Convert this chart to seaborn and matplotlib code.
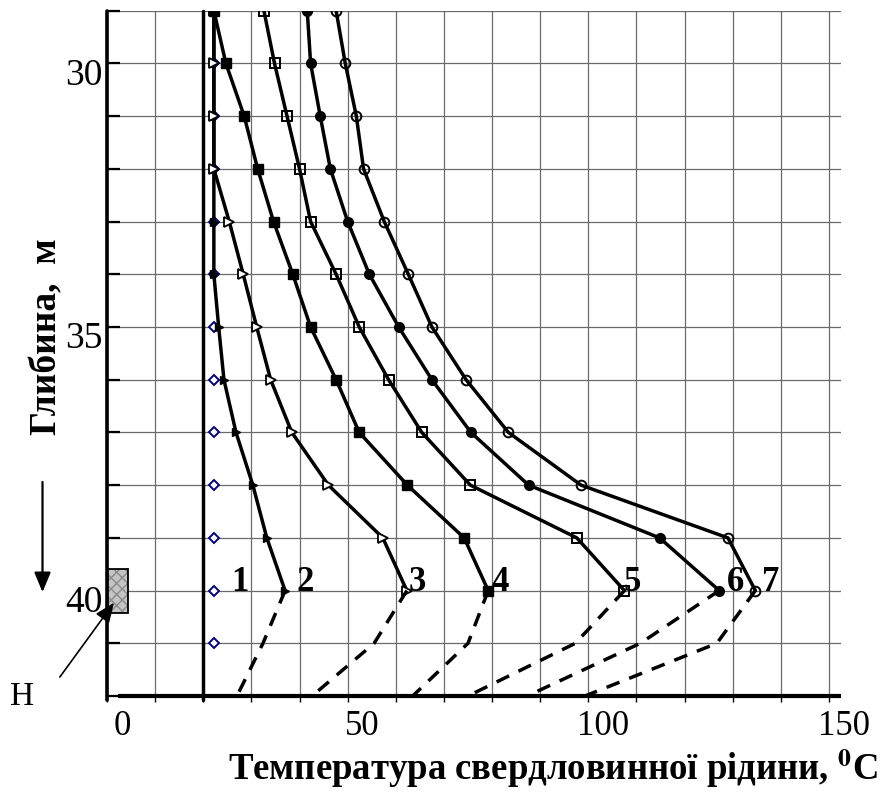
import numpy as np
import pandas as pd
import seaborn as sns
import matplotlib
matplotlib.use("Agg")
import matplotlib.pyplot as plt
from matplotlib.transforms import ScaledTranslation
from matplotlib.patches import Rectangle

# ---------------- data ----------------
depth_solid = [29, 30, 31, 32, 33, 34, 35, 36, 37, 38, 39, 40]
depth_dash = [40, 41, 42]
depth_init = [29, 30, 31, 32, 33, 34, 35, 36, 37, 38, 39, 40, 41]

t1 = [22.2, 22.2, 22.2, 22.2, 22.2, 22.2, 22.2, 22.2, 22.2, 22.2, 22.2, 22.2, 22.2]
t2 = [22.2, 22.2, 22.2, 22.2, 22.2, 22.2, 23.2, 24.3, 26.8, 30.3, 33.2, 37.0]
t3 = [22.2, 22.2, 22.2, 22.2, 25.4, 28.3, 31.1, 34.0, 38.4, 46.0, 57.3, 62.3]
t4 = [22.2, 24.7, 28.5, 31.3, 34.6, 38.6, 42.3, 47.6, 52.4, 62.4, 74.2, 79.2]
t5 = [32.6, 34.8, 37.4, 40.0, 42.3, 47.6, 52.4, 58.5, 65.4, 75.5, 97.6, 107.5]
t6 = [41.6, 42.3, 44.3, 46.4, 50.0, 54.5, 60.6, 67.5, 75.6, 87.6, 114.8, 127.2]
t7 = [47.6, 49.5, 51.8, 53.3, 57.6, 62.6, 67.5, 74.6, 83.4, 98.5, 129.0, 134.7]

d2 = [37.0, 32.4, 27.0]
d3 = [62.3, 55.5, 42.6]
d4 = [79.2, 75.0, 63.5]
d5 = [107.5, 97.3, 75.0]
d6 = [127.2, 110.8, 87.3]
d7 = [134.7, 126.7, 99.3]

curve_labels = ["1", "2", "3", "4", "5", "6", "7"]
label_x = [27.6, 41.1, 64.4, 81.7, 109.1, 130.5, 137.8]
x_ticklabels = ["0", "50", "100", "150"]
y_ticklabels = ["30", "35", "40"]
xlabel = "Температура свердловинної рідини, $^\\mathbf{0}$C"
ylabel = "Глибина,  м"
pump_label = "Н"

# ---------------- style ----------------
sns.set_theme(style="white")
plt.rcParams["font.family"] = ["Liberation Serif", "DejaVu Serif"]
plt.rcParams["mathtext.fontset"] = "stix"
for k in ["text.color", "axes.labelcolor", "xtick.color", "ytick.color"]:
    plt.rcParams[k] = "black"

fig = plt.figure(figsize=(8.88, 7.96), dpi=100)
ax = fig.add_axes([0.1205, 0.1256, 0.8266, 0.8610])

solid = [t2, t3, t4, t5, t6, t7]
dashed = [d2, d3, d4, d5, d6, d7]
mstyles = [
    dict(marker=">", markersize=6, markerfacecolor="black", markeredgecolor="black", markeredgewidth=1.0),
    dict(marker=">", markersize=6.5, markerfacecolor="white", markeredgecolor="black", markeredgewidth=1.3),
    dict(marker="s", markersize=7, markerfacecolor="black", markeredgecolor="black", markeredgewidth=1.0),
    dict(marker="s", markersize=7, markerfacecolor="none", markeredgecolor="black", markeredgewidth=1.4),
    dict(marker="o", markersize=7, markerfacecolor="black", markeredgecolor="black", markeredgewidth=1.0),
    dict(marker="o", markersize=7, markerfacecolor="none", markeredgecolor="black", markeredgewidth=1.4),
]

# series 1 : initial temperature (markers only)
df1 = pd.DataFrame({"temp": t1, "depth": depth_init})
sns.lineplot(data=df1, x="temp", y="depth", sort=False, estimator=None, ax=ax,
             linestyle="none", marker="D", markersize=5.5, markerfacecolor="white",
             markeredgecolor="#000080", markeredgewidth=1.4, zorder=3)

for t, d, ms in zip(solid, dashed, mstyles):
    dfs = pd.DataFrame({"temp": t, "depth": depth_solid})
    sns.lineplot(data=dfs, x="temp", y="depth", sort=False, estimator=None, ax=ax,
                 color="black", linewidth=2.5, zorder=4, **ms)
    dfd = pd.DataFrame({"temp": d, "depth": depth_dash})
    sns.lineplot(data=dfd, x="temp", y="depth", sort=False, estimator=None, ax=ax,
                 color="black", linewidth=2.5, linestyle=(0, (4, 3)), zorder=4)

for s, x in zip(curve_labels, label_x):
    ax.text(x, 40.0, s, ha="center", va="baseline", fontsize=25,
            fontweight="bold", color="black", zorder=6)

# ---------------- axes ----------------
ax.set_xlim(0, 152.5)
ax.set_ylim(42, 29)
xt = np.arange(0, 151, 10)
ax.set_xticks(xt)
ax.set_xticklabels([x_ticklabels[int(v // 50)] if v % 50 == 0 else "" for v in xt])
yt = np.arange(29, 43, 1)
ax.set_yticks(yt)
ax.set_yticklabels([y_ticklabels[int((v - 30) // 5)] if (v - 30) % 5 == 0 and 30 <= v <= 40 else "" for v in yt])
ax.grid(True, color="#6a6a6a", linewidth=0.9)
ax.set_axisbelow(True)
for sp in ax.spines.values():
    sp.set_visible(False)
ax.tick_params(axis="y", direction="in", length=9, width=1.6, color="black",
               labelcolor="black", labelsize=27, pad=3, left=True)
ax.tick_params(axis="x", direction="out", length=4, width=1.0, color="black",
               labelcolor="black", labelsize=25, pad=6, bottom=True)
for lab in ax.get_xticklabels():
    lab.set_transform(lab.get_transform() + ScaledTranslation(0.15, 0, fig.dpi_scale_trans))
for lab in ax.get_yticklabels():
    lab.set_transform(lab.get_transform() + ScaledTranslation(0, -0.08, fig.dpi_scale_trans))

# hand-drawn axis lines
ax.plot([0, 0], [29, 42.08], color="black", lw=2.6, clip_on=False, zorder=5)
ax.plot([2.3, 152.5], [42, 42], color="black", lw=3.0, clip_on=False, zorder=5, solid_capstyle="butt")
ax.plot([20, 20], [29, 42.08], color="black", lw=2.5, clip_on=False, zorder=5)

ax.set_xlabel(xlabel, fontsize=26.5, fontweight="bold", color="black")
ax.xaxis.set_label_coords(0.6076, -0.105)
ax.xaxis.label.set_verticalalignment("center")
ax.set_ylabel(ylabel, fontsize=27, fontweight="bold", color="black")
ax.yaxis.set_label_coords(-0.0817, 0.524)
ax.yaxis.label.set_verticalalignment("center")

# pump marker, arrows, label
ax.add_patch(Rectangle((0.2, 39.59), 4.2, 0.84, facecolor="#c4c4c4", edgecolor="#8a8a8a",
                       hatch="xxx", lw=0, clip_on=False, zorder=7))
ax.add_patch(Rectangle((0.2, 39.59), 4.2, 0.84, facecolor="none", edgecolor="black",
                       lw=1.3, clip_on=False, zorder=7))
ax.annotate("", xy=(-13.4, 40.03), xytext=(-13.4, 37.94), annotation_clip=False,
            arrowprops=dict(arrowstyle="-|>,head_length=0.6,head_width=0.25", color="black",
                            lw=1.6, mutation_scale=20, shrinkA=0, shrinkB=0))
ax.annotate("", xy=(1.45, 40.23), xytext=(-9.8, 41.64), annotation_clip=False,
            arrowprops=dict(arrowstyle="-|>,head_length=0.6,head_width=0.25", color="black",
                            lw=1.2, mutation_scale=20, shrinkA=0, shrinkB=0), zorder=8)
ax.text(-17.66, 42.02, pump_label, ha="center", va="center", fontsize=24,
        color="black", clip_on=False)

fig.savefig("out.png", dpi=100)
